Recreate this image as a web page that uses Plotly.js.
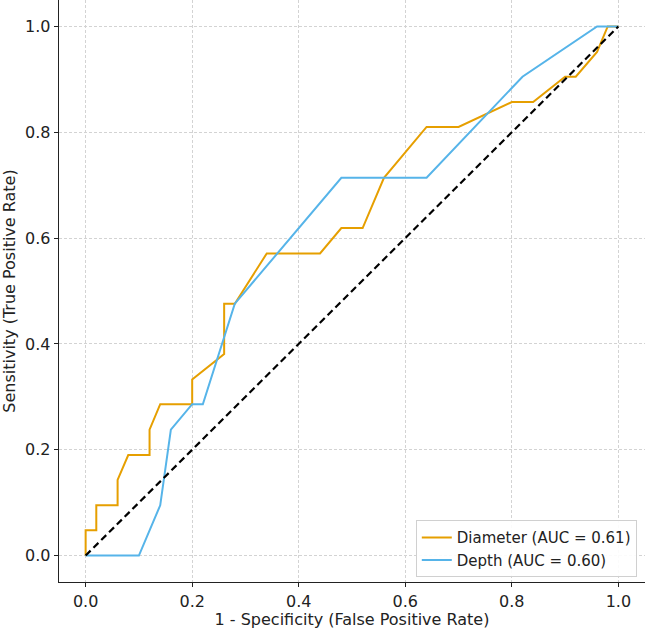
<!DOCTYPE html>
<html>
<head>
<meta charset="utf-8">
<script src="https://cdn.plot.ly/plotly-3.0.1.min.js"></script>
<style>
  html, body { margin: 0; padding: 0; background: #fff; }
  #chart { width: 646px; height: 629px; }
</style>
</head>
<body>
<div id="chart"></div>
<script>
// ROC curve points (false positive rate, true positive rate)
const diameterFpr = [0, 0, 0.02, 0.02, 0.06, 0.06, 0.08, 0.12, 0.12, 0.14, 0.20, 0.20, 0.26, 0.26, 0.28, 0.34, 0.44, 0.48, 0.52, 0.56, 0.64, 0.70, 0.80, 0.84, 0.90, 0.92, 0.96, 0.98, 1.0];
const diameterTpr = [0, 0.048, 0.048, 0.095, 0.095, 0.143, 0.190, 0.190, 0.238, 0.286, 0.286, 0.333, 0.381, 0.476, 0.476, 0.571, 0.571, 0.619, 0.619, 0.714, 0.810, 0.810, 0.857, 0.857, 0.905, 0.905, 0.952, 1.0, 1.0];

const depthFpr = [0, 0.10, 0.14, 0.16, 0.20, 0.22, 0.28, 0.48, 0.64, 0.82, 0.96, 1.0];
const depthTpr = [0, 0, 0.095, 0.238, 0.286, 0.286, 0.476, 0.714, 0.714, 0.905, 1.0, 1.0];

const chanceLine = [0, 1];

const seriesNames = ['Diameter (AUC = 0.61)', 'Depth (AUC = 0.60)'];
const tickVals = [0, 0.2, 0.4, 0.6, 0.8, 1.0];
const tickText = ['0.0', '0.2', '0.4', '0.6', '0.8', '1.0'];

const font = 'DejaVu Sans, sans-serif';

const traces = [
  {
    x: diameterFpr, y: diameterTpr, mode: 'lines', name: seriesNames[0],
    line: { color: '#E69F00', width: 2 }
  },
  {
    x: depthFpr, y: depthTpr, mode: 'lines', name: seriesNames[1],
    line: { color: '#56B4E9', width: 2 }
  },
  {
    x: chanceLine, y: chanceLine, mode: 'lines', showlegend: false,
    line: { color: '#000000', width: 2.2, dash: '7px,4px' }
  }
];

const axisCommon = {
  range: [-0.05, 1.05],
  tickvals: tickVals,
  ticktext: tickText,
  ticks: 'outside',
  ticklen: 4,
  tickwidth: 1,
  tickcolor: '#222',
  showline: true,
  linecolor: '#222',
  linewidth: 1.3,
  showgrid: true,
  gridcolor: '#d3d3d3',
  gridwidth: 1,
  griddash: '3px,2px',
  zeroline: false,
  tickfont: { family: font, size: 16, color: '#222' }
};

const layout = {
  width: 646,
  height: 629,
  margin: { l: 59, r: 1, t: 0, b: 47 },
  paper_bgcolor: '#fff',
  plot_bgcolor: '#fff',
  font: { family: font, color: '#222' },
  xaxis: Object.assign({}, axisCommon, {
    title: { text: '1 - Specificity (False Positive Rate)', font: { family: font, size: 16, color: '#222' }, standoff: 2 }
  }),
  yaxis: Object.assign({}, axisCommon, {
    title: { text: 'Sensitivity (True Positive Rate)', font: { family: font, size: 16, color: '#222' }, standoff: 6 }
  }),
  showlegend: true,
  legend: {
    x: 0.986, y: 0.008, xanchor: 'right', yanchor: 'bottom',
    bgcolor: 'rgba(255,255,255,0.9)',
    bordercolor: '#d0d0d0', borderwidth: 1,
    font: { family: font, size: 15, color: '#222' },
    tracegroupgap: 0
  }
};

Plotly.newPlot('chart', traces, layout, { displayModeBar: false, staticPlot: true });
</script>
</body>
</html>
